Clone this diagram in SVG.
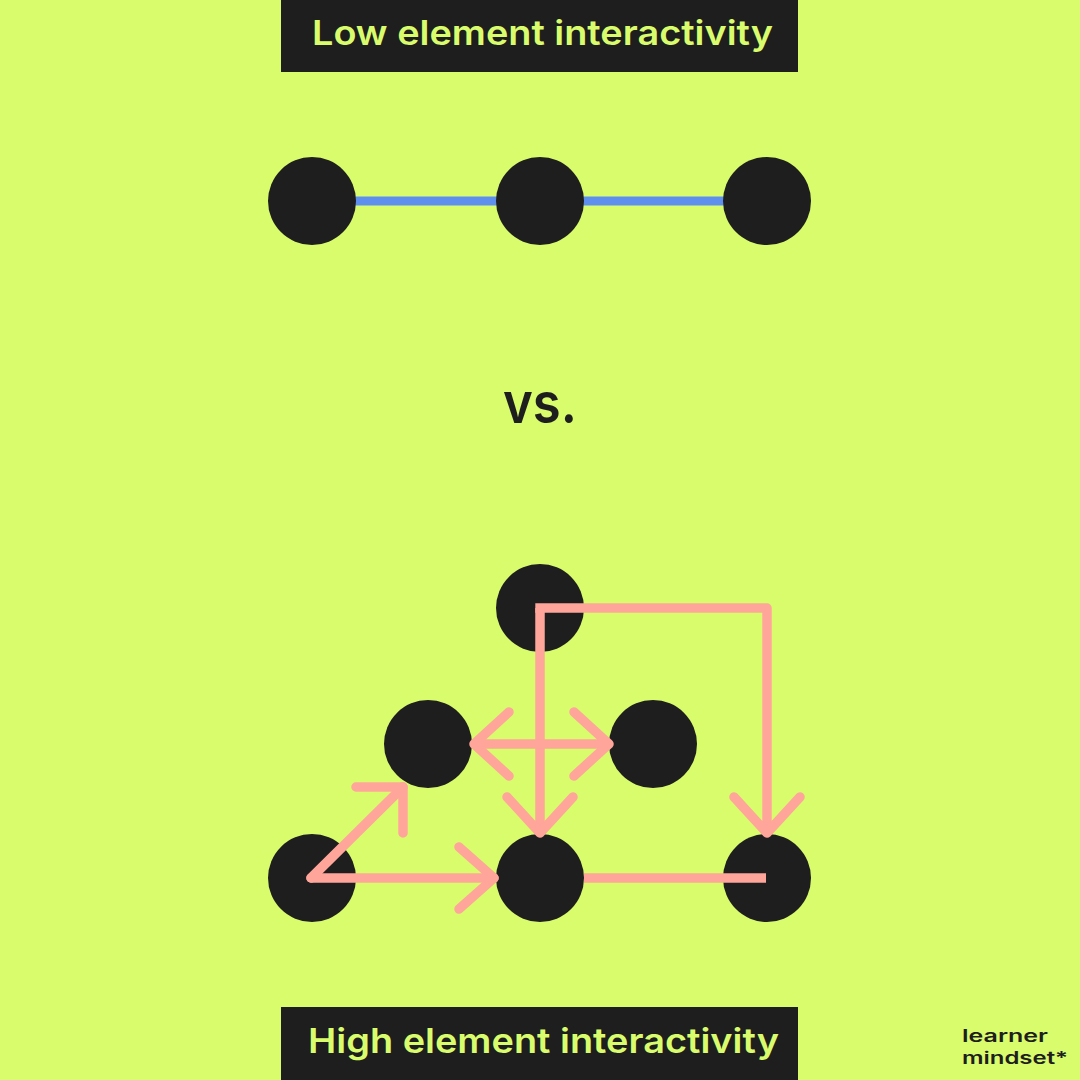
<svg xmlns="http://www.w3.org/2000/svg" width="1080" height="1080" viewBox="0 0 1080 1080">
<style>
.bg{fill:#D9FC6D}
.box{fill:#1E1E1E}
.title{fill:#D9FC6D;font-family:Inter,"Liberation Sans",sans-serif;font-weight:600;font-size:34px}
.dot{fill:#1E1E1E}
.blue{stroke:#5E8FEF;stroke-width:9;fill:none}
.pink{stroke:#FFA59A;stroke-width:9.5;fill:none;stroke-linecap:round;stroke-linejoin:round}
.butt{stroke-linecap:butt}
.vs{fill:#1E1E1E;font-family:Inter,"Liberation Sans",sans-serif;font-weight:600;font-size:56px}
.logo{fill:#1E1E1E;font-family:Inter,"Liberation Sans",sans-serif;font-weight:600;font-size:17px}
</style>
<rect class="bg" x="0" y="0" width="1080" height="1080"/>
<g id="title-low">
<rect class="box" x="281" y="0" width="517" height="72"/>
<text class="title" x="312" y="45" textLength="461" lengthAdjust="spacingAndGlyphs">Low element interactivity</text>
</g>
<g id="low-connectors">
<line class="blue" x1="340" y1="201" x2="740" y2="201"/>
</g>
<g id="low-a"><circle class="dot" cx="312" cy="201" r="44"/></g>
<g id="low-b"><circle class="dot" cx="540" cy="201" r="44"/></g>
<g id="low-c"><circle class="dot" cx="767" cy="201" r="44"/></g>
<g id="vs"><text class="vs" x="540" y="423" text-anchor="middle" textLength="74" lengthAdjust="spacingAndGlyphs">vs.</text></g>
<g id="high-top"><circle class="dot" cx="540" cy="608" r="44"/></g>
<g id="high-midleft"><circle class="dot" cx="428" cy="744" r="44"/></g>
<g id="high-midright"><circle class="dot" cx="653" cy="744" r="44"/></g>
<g id="high-botleft"><circle class="dot" cx="312" cy="878" r="44"/></g>
<g id="high-botmid"><circle class="dot" cx="540" cy="878" r="44"/></g>
<g id="high-botright"><circle class="dot" cx="767" cy="878" r="44"/></g>
<g id="connectors">
<path class="pink butt" d="M535.3,608 H767 V833"/>
<path class="pink butt" d="M540,608 V833"/>
<path class="pink" d="M507,797 L540,833 L573,797"/>
<path class="pink" d="M734,797 L767,833 L800,797"/>
<path class="pink butt" d="M474,744 H609"/>
<path class="pink" d="M509,712 L474,744 L509,776"/>
<path class="pink" d="M574,712 L609,744 L574,776"/>
<path class="pink" d="M311,878 L403,787"/>
<path class="pink" d="M356,787 H403 V833"/>
<path class="pink" d="M311,878 H494"/>
<path class="pink" d="M459,847 L494,878 L459,909"/>
<path class="pink butt" d="M584,878 H766"/>
</g>
<g id="title-high">
<rect class="box" x="281" y="1007" width="517" height="73"/>
<text class="title" x="308" y="1053" textLength="471" lengthAdjust="spacingAndGlyphs">High element interactivity</text>
</g>
<g id="logo">
<text class="logo" x="962" y="1042" textLength="86" lengthAdjust="spacingAndGlyphs">learner</text>
<text class="logo" x="962" y="1064" textLength="106" lengthAdjust="spacingAndGlyphs">mindset*</text>
</g>
</svg>
